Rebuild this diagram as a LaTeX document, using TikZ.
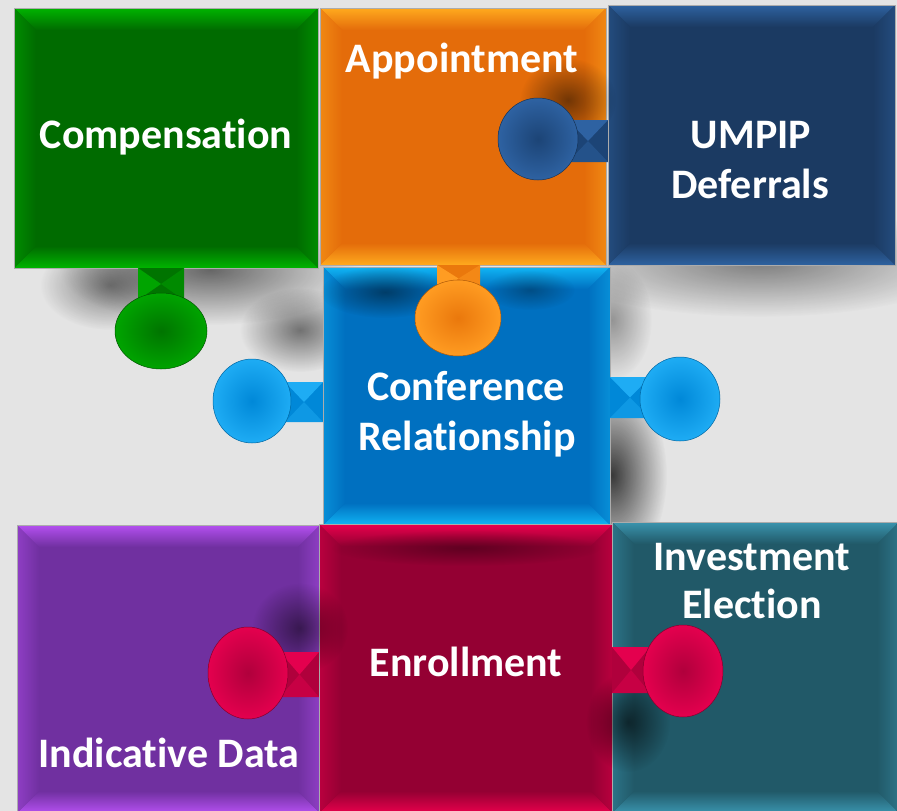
\documentclass[tikz,border=0pt]{standalone}
\usepackage{fontspec}
\setmainfont{Carlito}[Ligatures={NoCommon}]
\usetikzlibrary{fadings}
\tikzfading[name=softblob, inner color=transparent!0, outer color=transparent!100]
\definecolor{bgc}{HTML}{E4E4E4}
\definecolor{gBase}{HTML}{006B00}\definecolor{gLite}{HTML}{00B400}
\definecolor{oBase}{HTML}{E46C0A}\definecolor{oLite}{HTML}{FFAA1E}
\definecolor{nBase}{HTML}{1B3A62}\definecolor{nLite}{HTML}{2E62A0}
\definecolor{bBase}{HTML}{0070C0}\definecolor{bLite}{HTML}{10B4F4}
\definecolor{pBase}{HTML}{7030A0}\definecolor{pLite}{HTML}{B450F0}
\definecolor{rBase}{HTML}{940033}\definecolor{rLite}{HTML}{E8004C}
\definecolor{tBase}{HTML}{215968}\definecolor{tLite}{HTML}{3A94AE}
\definecolor{gkB}{HTML}{007400}\definecolor{gkL}{HTML}{00A400}
\definecolor{okB}{HTML}{EA780C}\definecolor{okL}{HTML}{FF9C22}
\definecolor{nkB}{HTML}{1C4476}\definecolor{nkL}{HTML}{2E62A2}
\definecolor{bkB}{HTML}{0088D8}\definecolor{bkL}{HTML}{1EACF4}
\definecolor{rkB}{HTML}{B0003C}\definecolor{rkL}{HTML}{E4004E}
\newcommand{\ptile}[6]{%
  \fill[#5] (#1,-#2) rectangle (#3,-#4);
  \shade[top color=#6, bottom color=#5] (#1,-#2) -- (#3,-#2) -- ({#3-22},{-#2-22}) -- ({#1+22},{-#2-22}) -- cycle;
  \shade[bottom color=#6, top color=#5] (#1,-#4) -- (#3,-#4) -- ({#3-22},{-#4+22}) -- ({#1+22},{-#4+22}) -- cycle;
  \shade[left color=#6!45!#5, right color=#5] (#1,-#2) -- ({#1+22},{-#2-22}) -- ({#1+22},{-#4+22}) -- (#1,-#4) -- cycle;
  \shade[right color=#6!45!#5, left color=#5] (#3,-#2) -- ({#3-22},{-#2-22}) -- ({#3-22},{-#4+22}) -- (#3,-#4) -- cycle;
  \draw[gray!65, line width=0.8pt] (#1,-#2) rectangle (#3,-#4);
}
\newcommand{\hneck}[6]{%
  \fill[#5] (#1,-#2) rectangle (#3,-#4);
  \fill[#6] (#1,-#2) -- (#3,-#2) -- ({(#1+#3)/2},{-(#2+#4)/2}) -- cycle;
  \fill[#6!45!#5] (#1,-#4) -- (#3,-#4) -- ({(#1+#3)/2},{-(#2+#4)/2}) -- cycle;
}
\newcommand{\vneck}[6]{%
  \fill[#5] (#1,-#2) rectangle (#3,-#4);
  \fill[#6] (#1,-#2) -- (#1,-#4) -- ({(#1+#3)/2},{-(#2+#4)/2}) -- cycle;
  \fill[#6!45!#5] (#3,-#2) -- (#3,-#4) -- ({(#1+#3)/2},{-(#2+#4)/2}) -- cycle;
}
\newcommand{\bulb}[6]{%
  \shade[inner color=#5, outer color=#6] (#1,-#2) ellipse [x radius=#3pt, y radius=#4pt];
  \draw[#5!75!black, line width=0.5pt] (#1,-#2) ellipse [x radius=#3pt, y radius=#4pt];
}
\newcommand{\softshadow}[5]{%
  \fill[black, opacity=#5, path fading=softblob] (#1,-#2) ellipse [x radius=#3pt, y radius=#4pt];
}
\tikzset{
  lbl/.style={text=white, anchor=base, inner sep=0pt, font=\bfseries\fontsize{42pt}{50pt}\selectfont}
}
\begin{document}
\begin{tikzpicture}[x=1pt,y=1pt]
\useasboundingbox (0,0) rectangle (897,-811);
\fill[bgc] (0,0) rectangle (897,-811);
% shadows in the gaps
\softshadow{210}{270}{150}{55}{0.55}
\softshadow{110}{285}{70}{45}{0.45}
\softshadow{300}{330}{60}{42}{0.5}
\softshadow{760}{262}{210}{55}{0.45}
\softshadow{612}{475}{55}{95}{0.75}
\softshadow{612}{320}{40}{60}{0.35}
% tiles
\ptile{14}{8}{318}{268}{gBase}{gLite}
\ptile{320}{8}{606}{265}{oBase}{oLite}
\ptile{608}{5}{895}{265}{nBase}{nLite}
\ptile{323}{267}{610}{525}{bBase}{bLite}
\ptile{17}{525}{320}{813}{pBase}{pLite}
\ptile{319}{524}{613}{813}{rBase}{rLite}
\ptile{612}{522}{899}{813}{tBase}{tLite}
% inner shadows
\softshadow{568}{100}{48}{42}{0.5}
\softshadow{385}{292}{65}{26}{0.45}
\softshadow{530}{290}{45}{20}{0.3}
\softshadow{300}{628}{48}{45}{0.5}
\softshadow{628}{722}{42}{50}{0.6}
\softshadow{466}{548}{135}{18}{0.35}
% knobs
\vneck{138}{268}{184}{300}{gkB}{gkL}
\bulb{161}{331}{46}{38}{gkB}{gkL}
\vneck{437}{265}{480}{292}{okB}{okL}
\bulb{458}{318}{43}{38}{okB}{okL}
\hneck{568}{120}{608}{162}{nkB}{nkL}
\bulb{538}{139}{40}{41}{nkB}{nkL}
\hneck{285}{382}{323}{422}{bkB}{bkL}
\bulb{252}{401}{39}{42}{bkB}{bkL}
\hneck{610}{377}{650}{418}{bkB}{bkL}
\bulb{680}{399}{40}{42}{bkB}{bkL}
\hneck{280}{652}{319}{697}{rkB}{rkL}
\bulb{248}{673}{40}{46}{rkB}{rkL}
\hneck{612}{647}{650}{693}{rkB}{rkL}
\bulb{683}{671}{40}{46}{rkB}{rkL}
% labels
\node[lbl] (comp) at (166,-148) {Compensation};
\node[lbl] (appt) at (462,-72) {Appointment};
\node[lbl] (umpip) at (751,-148) {UMPIP};
\node[lbl] (defer) at (750,-198) {Deferrals};
\node[lbl] (conf) at (466,-400) {Conference};
\node[lbl] (rel) at (467,-450) {Relationship};
\node[lbl] (enrol) at (466,-676) {Enrollment};
\node[lbl] (indic) at (169,-767) {Indicative Data};
\node[lbl] (invest) at (752,-570) {Investment};
\node[lbl] (elect) at (752,-618) {Election};
\end{tikzpicture}
\end{document}
